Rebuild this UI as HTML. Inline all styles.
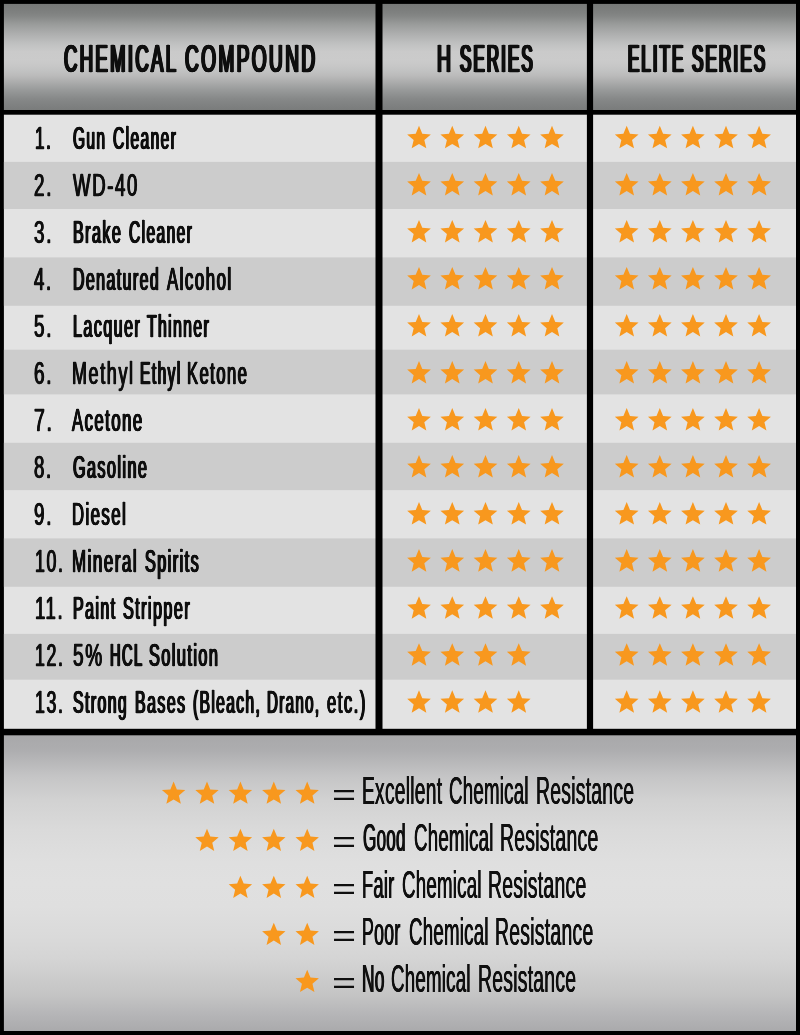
<!DOCTYPE html><html lang="en"><head><meta charset="utf-8"><title>Chemical Resistance Chart</title><style>
html,body{margin:0;padding:0;background:#000;}
body{width:800px;height:1035px;position:relative;overflow:hidden;font-family:"Liberation Sans",sans-serif;color:#0f0f0f;}
.t{position:absolute;white-space:nowrap;transform-origin:0 50%;line-height:1;display:block;}
.h{-webkit-text-stroke:0.70px;font-weight:normal;font-size:38.80px;letter-spacing:5.00px;text-shadow:0.80px 0 0 #0f0f0f,-0.80px 0 0 #0f0f0f,1.60px 0 0 #0f0f0f,-1.60px 0 0 #0f0f0f;word-spacing:2.00px;}
.rt{-webkit-text-stroke:0.40px;font-weight:normal;font-size:30.70px;letter-spacing:2.80px;text-shadow:0.60px 0 0 #0f0f0f,-0.60px 0 0 #0f0f0f,1.20px 0 0 #0f0f0f,-1.20px 0 0 #0f0f0f;word-spacing:2.00px;}
.lg{font-weight:normal;font-size:39.10px;letter-spacing:0.50px;text-shadow:0.40px 0 0 #0f0f0f,-0.40px 0 0 #0f0f0f;word-spacing:0.00px;}
.eq{font-weight:normal;font-size:30.00px;}
svg{position:absolute;left:0;top:0;}
</style></head><body>
<svg width="800" height="1035" viewBox="0 0 800 1035"><defs><linearGradient id="hg" x1="0" y1="0" x2="0" y2="1"><stop offset="0%" stop-color="#777978"/><stop offset="7.5%" stop-color="#7e807f"/><stop offset="11.3%" stop-color="#848685"/><stop offset="15%" stop-color="#8e908f"/><stop offset="19%" stop-color="#999b9a"/><stop offset="28%" stop-color="#adaeae"/><stop offset="37.7%" stop-color="#c0c1c1"/><stop offset="45%" stop-color="#cacaca"/><stop offset="53%" stop-color="#cbcbcb"/><stop offset="58.5%" stop-color="#c7c7c7"/><stop offset="64%" stop-color="#c0c1c1"/><stop offset="68%" stop-color="#bababa"/><stop offset="75%" stop-color="#a8a9a9"/><stop offset="82%" stop-color="#969898"/><stop offset="89.6%" stop-color="#868888"/><stop offset="98%" stop-color="#7c7e7e"/><stop offset="100%" stop-color="#7a7c7b"/></linearGradient><linearGradient id="fg" x1="0" y1="0" x2="0" y2="1"><stop offset="0%" stop-color="#a8a8aa"/><stop offset="5%" stop-color="#adadaf"/><stop offset="14%" stop-color="#c5c5c6"/><stop offset="22%" stop-color="#d2d2d2"/><stop offset="32%" stop-color="#dadada"/><stop offset="43%" stop-color="#dfdfdf"/><stop offset="50%" stop-color="#e0e0e0"/><stop offset="58%" stop-color="#dfdfdf"/><stop offset="68%" stop-color="#dadada"/><stop offset="76%" stop-color="#d4d4d4"/><stop offset="88%" stop-color="#c4c4c4"/><stop offset="94%" stop-color="#b6b6b8"/><stop offset="100%" stop-color="#aaaaac"/></linearGradient></defs><rect width="800" height="1035" fill="#000"/><rect x="3.90" y="3.90" width="792.10" height="106.10" fill="url(#hg)"/><rect x="3.90" y="114.70" width="792.10" height="614.10" fill="#e3e3e3"/><rect x="3.90" y="161.90" width="792.10" height="47.10" fill="#cccccc"/><rect x="3.90" y="257.40" width="792.10" height="48.35" fill="#cccccc"/><rect x="3.90" y="349.70" width="792.10" height="44.70" fill="#cccccc"/><rect x="3.90" y="442.80" width="792.10" height="47.30" fill="#cccccc"/><rect x="3.90" y="538.40" width="792.10" height="48.40" fill="#cccccc"/><rect x="3.90" y="633.90" width="792.10" height="45.80" fill="#cccccc"/><rect x="375.50" y="0" width="7.00" height="736.30" fill="#000"/><rect x="586.90" y="0" width="6.20" height="736.30" fill="#000"/><rect x="3.90" y="735.30" width="792.10" height="295.70" fill="url(#fg)"/></svg>
<div class="t h" id="h0_0" style="left:64.39px;top:39.81px;transform:scaleX(0.4756);text-shadow:0.75px 0 0 #0f0f0f,-0.75px 0 0 #0f0f0f,1.49px 0 0 #0f0f0f,-1.49px 0 0 #0f0f0f,2.24px 0 0 #0f0f0f,-2.24px 0 0 #0f0f0f">CHEMICAL</div>
<div class="t h" id="h0_1" style="left:185.16px;top:39.81px;transform:scaleX(0.4899);text-shadow:0.70px 0 0 #0f0f0f,-0.70px 0 0 #0f0f0f,1.41px 0 0 #0f0f0f,-1.41px 0 0 #0f0f0f,2.11px 0 0 #0f0f0f,-2.11px 0 0 #0f0f0f">COMPOUND</div>
<div class="t h" id="h1_0" style="left:437.00px;top:39.81px;transform:scaleX(0.4985);text-shadow:0.68px 0 0 #0f0f0f,-0.68px 0 0 #0f0f0f,1.36px 0 0 #0f0f0f,-1.36px 0 0 #0f0f0f,2.04px 0 0 #0f0f0f,-2.04px 0 0 #0f0f0f">H</div>
<div class="t h" id="h1_1" style="left:460.04px;top:39.81px;transform:scaleX(0.4343);text-shadow:0.89px 0 0 #0f0f0f,-0.89px 0 0 #0f0f0f,1.77px 0 0 #0f0f0f,-1.77px 0 0 #0f0f0f,2.66px 0 0 #0f0f0f,-2.66px 0 0 #0f0f0f">SERIES</div>
<div class="t h" id="h2_0" style="left:628.10px;top:39.81px;transform:scaleX(0.4321);text-shadow:0.90px 0 0 #0f0f0f,-0.90px 0 0 #0f0f0f,1.79px 0 0 #0f0f0f,-1.79px 0 0 #0f0f0f,2.69px 0 0 #0f0f0f,-2.69px 0 0 #0f0f0f">ELITE</div>
<div class="t h" id="h2_1" style="left:692.49px;top:39.81px;transform:scaleX(0.4370);text-shadow:0.88px 0 0 #0f0f0f,-0.88px 0 0 #0f0f0f,1.75px 0 0 #0f0f0f,-1.75px 0 0 #0f0f0f,2.63px 0 0 #0f0f0f,-2.63px 0 0 #0f0f0f">SERIES</div>
<div class="t rt" id="n0" style="left:35.37px;top:123.90px;transform:scaleX(0.5588);text-shadow:0.52px 0 0 #0f0f0f,-0.52px 0 0 #0f0f0f,1.04px 0 0 #0f0f0f,-1.04px 0 0 #0f0f0f">1.</div>
<div class="t rt" id="r0_0" style="left:73.17px;top:123.90px;transform:scaleX(0.5023);text-shadow:0.67px 0 0 #0f0f0f,-0.67px 0 0 #0f0f0f,1.34px 0 0 #0f0f0f,-1.34px 0 0 #0f0f0f">Gun</div>
<div class="t rt" id="r0_1" style="left:113.06px;top:123.90px;transform:scaleX(0.5054);text-shadow:0.66px 0 0 #0f0f0f,-0.66px 0 0 #0f0f0f,1.32px 0 0 #0f0f0f,-1.32px 0 0 #0f0f0f">Cleaner</div>
<div class="t rt" id="n1" style="left:33.70px;top:170.93px;transform:scaleX(0.6106);text-shadow:0.81px 0 0 #0f0f0f,-0.81px 0 0 #0f0f0f">2.</div>
<div class="t rt" id="r1_0" style="left:72.76px;top:170.93px;transform:scaleX(0.6038);text-shadow:0.84px 0 0 #0f0f0f,-0.84px 0 0 #0f0f0f">WD-40</div>
<div class="t rt" id="n2" style="left:33.81px;top:217.96px;transform:scaleX(0.6120);text-shadow:0.81px 0 0 #0f0f0f,-0.81px 0 0 #0f0f0f">3.</div>
<div class="t rt" id="r2_0" style="left:72.68px;top:217.96px;transform:scaleX(0.5236);text-shadow:0.61px 0 0 #0f0f0f,-0.61px 0 0 #0f0f0f,1.22px 0 0 #0f0f0f,-1.22px 0 0 #0f0f0f">Brake</div>
<div class="t rt" id="r2_1" style="left:128.80px;top:217.96px;transform:scaleX(0.5053);text-shadow:0.66px 0 0 #0f0f0f,-0.66px 0 0 #0f0f0f,1.33px 0 0 #0f0f0f,-1.33px 0 0 #0f0f0f">Cleaner</div>
<div class="t rt" id="n3" style="left:33.83px;top:264.99px;transform:scaleX(0.6025);text-shadow:0.85px 0 0 #0f0f0f,-0.85px 0 0 #0f0f0f">4.</div>
<div class="t rt" id="r3_0" style="left:72.99px;top:264.99px;transform:scaleX(0.5174);text-shadow:0.63px 0 0 #0f0f0f,-0.63px 0 0 #0f0f0f,1.26px 0 0 #0f0f0f,-1.26px 0 0 #0f0f0f">Denatured</div>
<div class="t rt" id="r3_1" style="left:167.05px;top:264.99px;transform:scaleX(0.5463);text-shadow:0.55px 0 0 #0f0f0f,-0.55px 0 0 #0f0f0f,1.10px 0 0 #0f0f0f,-1.10px 0 0 #0f0f0f">Alcohol</div>
<div class="t rt" id="n4" style="left:34.37px;top:312.02px;transform:scaleX(0.6123);text-shadow:0.81px 0 0 #0f0f0f,-0.81px 0 0 #0f0f0f">5.</div>
<div class="t rt" id="r4_0" style="left:73.12px;top:312.02px;transform:scaleX(0.5232);text-shadow:0.61px 0 0 #0f0f0f,-0.61px 0 0 #0f0f0f,1.22px 0 0 #0f0f0f,-1.22px 0 0 #0f0f0f">Lacquer</div>
<div class="t rt" id="r4_1" style="left:147.44px;top:312.02px;transform:scaleX(0.5107);text-shadow:0.65px 0 0 #0f0f0f,-0.65px 0 0 #0f0f0f,1.29px 0 0 #0f0f0f,-1.29px 0 0 #0f0f0f">Thinner</div>
<div class="t rt" id="n5" style="left:34.10px;top:359.05px;transform:scaleX(0.6167);text-shadow:0.79px 0 0 #0f0f0f,-0.79px 0 0 #0f0f0f">6.</div>
<div class="t rt" id="r5_0" style="left:72.16px;top:359.05px;transform:scaleX(0.5844);text-shadow:0.92px 0 0 #0f0f0f,-0.92px 0 0 #0f0f0f">Methyl</div>
<div class="t rt" id="r5_1" style="left:139.50px;top:359.05px;transform:scaleX(0.5072);text-shadow:0.66px 0 0 #0f0f0f,-0.66px 0 0 #0f0f0f,1.31px 0 0 #0f0f0f,-1.31px 0 0 #0f0f0f">Ethyl</div>
<div class="t rt" id="r5_2" style="left:187.33px;top:359.05px;transform:scaleX(0.5382);text-shadow:0.57px 0 0 #0f0f0f,-0.57px 0 0 #0f0f0f,1.14px 0 0 #0f0f0f,-1.14px 0 0 #0f0f0f">Ketone</div>
<div class="t rt" id="n6" style="left:33.77px;top:406.08px;transform:scaleX(0.6321);text-shadow:0.73px 0 0 #0f0f0f,-0.73px 0 0 #0f0f0f">7.</div>
<div class="t rt" id="r6_0" style="left:72.47px;top:406.08px;transform:scaleX(0.5421);text-shadow:0.56px 0 0 #0f0f0f,-0.56px 0 0 #0f0f0f,1.12px 0 0 #0f0f0f,-1.12px 0 0 #0f0f0f">Acetone</div>
<div class="t rt" id="n7" style="left:34.17px;top:453.11px;transform:scaleX(0.6070);text-shadow:0.83px 0 0 #0f0f0f,-0.83px 0 0 #0f0f0f">8.</div>
<div class="t rt" id="r7_0" style="left:73.42px;top:453.11px;transform:scaleX(0.5251);text-shadow:0.61px 0 0 #0f0f0f,-0.61px 0 0 #0f0f0f,1.21px 0 0 #0f0f0f,-1.21px 0 0 #0f0f0f">Gasoline</div>
<div class="t rt" id="n8" style="left:33.88px;top:500.14px;transform:scaleX(0.6127);text-shadow:0.81px 0 0 #0f0f0f,-0.81px 0 0 #0f0f0f">9.</div>
<div class="t rt" id="r8_0" style="left:72.48px;top:500.14px;transform:scaleX(0.5413);text-shadow:0.56px 0 0 #0f0f0f,-0.56px 0 0 #0f0f0f,1.13px 0 0 #0f0f0f,-1.13px 0 0 #0f0f0f">Diesel</div>
<div class="t rt" id="n9" style="left:35.22px;top:547.17px;transform:scaleX(0.5775);text-shadow:0.95px 0 0 #0f0f0f,-0.95px 0 0 #0f0f0f">10.</div>
<div class="t rt" id="r9_0" style="left:72.07px;top:547.17px;transform:scaleX(0.5505);text-shadow:0.54px 0 0 #0f0f0f,-0.54px 0 0 #0f0f0f,1.08px 0 0 #0f0f0f,-1.08px 0 0 #0f0f0f">Mineral</div>
<div class="t rt" id="r9_1" style="left:145.01px;top:547.17px;transform:scaleX(0.5260);text-shadow:0.60px 0 0 #0f0f0f,-0.60px 0 0 #0f0f0f,1.21px 0 0 #0f0f0f,-1.21px 0 0 #0f0f0f">Spirits</div>
<div class="t rt" id="n10" style="left:34.91px;top:594.20px;transform:scaleX(0.6031);text-shadow:0.84px 0 0 #0f0f0f,-0.84px 0 0 #0f0f0f">11.</div>
<div class="t rt" id="r10_0" style="left:72.58px;top:594.20px;transform:scaleX(0.5191);text-shadow:0.62px 0 0 #0f0f0f,-0.62px 0 0 #0f0f0f,1.25px 0 0 #0f0f0f,-1.25px 0 0 #0f0f0f">Paint</div>
<div class="t rt" id="r10_1" style="left:123.22px;top:594.20px;transform:scaleX(0.5246);text-shadow:0.61px 0 0 #0f0f0f,-0.61px 0 0 #0f0f0f,1.22px 0 0 #0f0f0f,-1.22px 0 0 #0f0f0f">Stripper</div>
<div class="t rt" id="n11" style="left:34.84px;top:641.23px;transform:scaleX(0.5775);text-shadow:0.95px 0 0 #0f0f0f,-0.95px 0 0 #0f0f0f">12.</div>
<div class="t rt" id="r11_0" style="left:72.83px;top:641.23px;transform:scaleX(0.6197);text-shadow:0.78px 0 0 #0f0f0f,-0.78px 0 0 #0f0f0f">5%</div>
<div class="t rt" id="r11_1" style="left:109.53px;top:641.23px;transform:scaleX(0.4790);text-shadow:0.74px 0 0 #0f0f0f,-0.74px 0 0 #0f0f0f,1.49px 0 0 #0f0f0f,-1.49px 0 0 #0f0f0f">HCL</div>
<div class="t rt" id="r11_2" style="left:149.42px;top:641.23px;transform:scaleX(0.5283);text-shadow:0.60px 0 0 #0f0f0f,-0.60px 0 0 #0f0f0f,1.20px 0 0 #0f0f0f,-1.20px 0 0 #0f0f0f">Solution</div>
<div class="t rt" id="n12" style="left:34.69px;top:688.26px;transform:scaleX(0.5780);text-shadow:0.95px 0 0 #0f0f0f,-0.95px 0 0 #0f0f0f">13.</div>
<div class="t rt" id="r12_0" style="left:72.58px;top:688.26px;transform:scaleX(0.5147);text-shadow:0.64px 0 0 #0f0f0f,-0.64px 0 0 #0f0f0f,1.27px 0 0 #0f0f0f,-1.27px 0 0 #0f0f0f">Strong</div>
<div class="t rt" id="r12_1" style="left:134.94px;top:688.26px;transform:scaleX(0.5187);text-shadow:0.62px 0 0 #0f0f0f,-0.62px 0 0 #0f0f0f,1.25px 0 0 #0f0f0f,-1.25px 0 0 #0f0f0f">Bases</div>
<div class="t rt" id="r12_2" style="left:193.17px;top:688.26px;transform:scaleX(0.5053);text-shadow:0.66px 0 0 #0f0f0f,-0.66px 0 0 #0f0f0f,1.33px 0 0 #0f0f0f,-1.33px 0 0 #0f0f0f">(Bleach,</div>
<div class="t rt" id="r12_3" style="left:267.00px;top:688.26px;transform:scaleX(0.4901);text-shadow:0.71px 0 0 #0f0f0f,-0.71px 0 0 #0f0f0f,1.42px 0 0 #0f0f0f,-1.42px 0 0 #0f0f0f">Drano,</div>
<div class="t rt" id="r12_4" style="left:327.11px;top:688.26px;transform:scaleX(0.5415);text-shadow:0.56px 0 0 #0f0f0f,-0.56px 0 0 #0f0f0f,1.13px 0 0 #0f0f0f,-1.13px 0 0 #0f0f0f">etc.)</div>
<div class="t eq" id="e0" style="left:331.70px;top:779.85px;transform:scaleX(1.3721)">=</div>
<div class="t lg" id="l0_0" style="left:361.77px;top:771.25px;transform:scaleX(0.4923);text-shadow:0.60px 0 0 #0f0f0f,-0.60px 0 0 #0f0f0f">Excellent</div>
<div class="t lg" id="l0_1" style="left:449.15px;top:771.25px;transform:scaleX(0.4776);text-shadow:0.67px 0 0 #0f0f0f,-0.67px 0 0 #0f0f0f">Chemical</div>
<div class="t lg" id="l0_2" style="left:535.51px;top:771.25px;transform:scaleX(0.4957);text-shadow:0.58px 0 0 #0f0f0f,-0.58px 0 0 #0f0f0f">Resistance</div>
<div class="t eq" id="e1" style="left:331.67px;top:826.90px;transform:scaleX(1.3718)">=</div>
<div class="t lg" id="l1_0" style="left:363.11px;top:818.30px;transform:scaleX(0.4379);text-shadow:0.90px 0 0 #0f0f0f,-0.90px 0 0 #0f0f0f">Good</div>
<div class="t lg" id="l1_1" style="left:413.51px;top:818.30px;transform:scaleX(0.4775);text-shadow:0.68px 0 0 #0f0f0f,-0.68px 0 0 #0f0f0f">Chemical</div>
<div class="t lg" id="l1_2" style="left:500.17px;top:818.30px;transform:scaleX(0.4966);text-shadow:0.58px 0 0 #0f0f0f,-0.58px 0 0 #0f0f0f">Resistance</div>
<div class="t eq" id="e2" style="left:331.64px;top:873.95px;transform:scaleX(1.3715)">=</div>
<div class="t lg" id="l2_0" style="left:361.71px;top:865.35px;transform:scaleX(0.4681);text-shadow:0.73px 0 0 #0f0f0f,-0.73px 0 0 #0f0f0f">Fair</div>
<div class="t lg" id="l2_1" style="left:402.41px;top:865.35px;transform:scaleX(0.4777);text-shadow:0.67px 0 0 #0f0f0f,-0.67px 0 0 #0f0f0f">Chemical</div>
<div class="t lg" id="l2_2" style="left:488.15px;top:865.35px;transform:scaleX(0.4966);text-shadow:0.58px 0 0 #0f0f0f,-0.58px 0 0 #0f0f0f">Resistance</div>
<div class="t eq" id="e3" style="left:331.66px;top:921.00px;transform:scaleX(1.3718)">=</div>
<div class="t lg" id="l3_0" style="left:361.92px;top:912.40px;transform:scaleX(0.4549);text-shadow:0.80px 0 0 #0f0f0f,-0.80px 0 0 #0f0f0f">Poor</div>
<div class="t lg" id="l3_1" style="left:408.73px;top:912.40px;transform:scaleX(0.4778);text-shadow:0.67px 0 0 #0f0f0f,-0.67px 0 0 #0f0f0f">Chemical</div>
<div class="t lg" id="l3_2" style="left:494.59px;top:912.40px;transform:scaleX(0.4965);text-shadow:0.58px 0 0 #0f0f0f,-0.58px 0 0 #0f0f0f">Resistance</div>
<div class="t eq" id="e4" style="left:331.70px;top:968.05px;transform:scaleX(1.3717)">=</div>
<div class="t lg" id="l4_0" style="left:362.47px;top:959.45px;transform:scaleX(0.4438);text-shadow:0.87px 0 0 #0f0f0f,-0.87px 0 0 #0f0f0f">No</div>
<div class="t lg" id="l4_1" style="left:391.43px;top:959.45px;transform:scaleX(0.4778);text-shadow:0.67px 0 0 #0f0f0f,-0.67px 0 0 #0f0f0f">Chemical</div>
<div class="t lg" id="l4_2" style="left:478.03px;top:959.45px;transform:scaleX(0.4957);text-shadow:0.58px 0 0 #0f0f0f,-0.58px 0 0 #0f0f0f">Resistance</div>
<svg width="800" height="1035" viewBox="0 0 800 1035"><g fill="#f8981e"><polygon points="419.00,125.85 422.29,133.77 430.84,134.45 424.33,140.03 426.32,148.37 419.00,143.90 411.68,148.37 413.67,140.03 407.16,134.45 415.71,133.77"/><polygon points="452.25,125.85 455.54,133.77 464.09,134.45 457.58,140.03 459.57,148.37 452.25,143.90 444.93,148.37 446.92,140.03 440.41,134.45 448.96,133.77"/><polygon points="485.50,125.85 488.79,133.77 497.34,134.45 490.83,140.03 492.82,148.37 485.50,143.90 478.18,148.37 480.17,140.03 473.66,134.45 482.21,133.77"/><polygon points="518.75,125.85 522.04,133.77 530.59,134.45 524.08,140.03 526.07,148.37 518.75,143.90 511.43,148.37 513.42,140.03 506.91,134.45 515.46,133.77"/><polygon points="552.00,125.85 555.29,133.77 563.84,134.45 557.33,140.03 559.32,148.37 552.00,143.90 544.68,148.37 546.67,140.03 540.16,134.45 548.71,133.77"/><polygon points="626.70,125.85 629.99,133.77 638.54,134.45 632.03,140.03 634.02,148.37 626.70,143.90 619.38,148.37 621.37,140.03 614.86,134.45 623.41,133.77"/><polygon points="659.80,125.85 663.09,133.77 671.64,134.45 665.13,140.03 667.12,148.37 659.80,143.90 652.48,148.37 654.47,140.03 647.96,134.45 656.51,133.77"/><polygon points="692.90,125.85 696.19,133.77 704.74,134.45 698.23,140.03 700.22,148.37 692.90,143.90 685.58,148.37 687.57,140.03 681.06,134.45 689.61,133.77"/><polygon points="726.00,125.85 729.29,133.77 737.84,134.45 731.33,140.03 733.32,148.37 726.00,143.90 718.68,148.37 720.67,140.03 714.16,134.45 722.71,133.77"/><polygon points="759.10,125.85 762.39,133.77 770.94,134.45 764.43,140.03 766.42,148.37 759.10,143.90 751.78,148.37 753.77,140.03 747.26,134.45 755.81,133.77"/><polygon points="419.00,172.88 422.29,180.80 430.84,181.48 424.33,187.06 426.32,195.40 419.00,190.93 411.68,195.40 413.67,187.06 407.16,181.48 415.71,180.80"/><polygon points="452.25,172.88 455.54,180.80 464.09,181.48 457.58,187.06 459.57,195.40 452.25,190.93 444.93,195.40 446.92,187.06 440.41,181.48 448.96,180.80"/><polygon points="485.50,172.88 488.79,180.80 497.34,181.48 490.83,187.06 492.82,195.40 485.50,190.93 478.18,195.40 480.17,187.06 473.66,181.48 482.21,180.80"/><polygon points="518.75,172.88 522.04,180.80 530.59,181.48 524.08,187.06 526.07,195.40 518.75,190.93 511.43,195.40 513.42,187.06 506.91,181.48 515.46,180.80"/><polygon points="552.00,172.88 555.29,180.80 563.84,181.48 557.33,187.06 559.32,195.40 552.00,190.93 544.68,195.40 546.67,187.06 540.16,181.48 548.71,180.80"/><polygon points="626.70,172.88 629.99,180.80 638.54,181.48 632.03,187.06 634.02,195.40 626.70,190.93 619.38,195.40 621.37,187.06 614.86,181.48 623.41,180.80"/><polygon points="659.80,172.88 663.09,180.80 671.64,181.48 665.13,187.06 667.12,195.40 659.80,190.93 652.48,195.40 654.47,187.06 647.96,181.48 656.51,180.80"/><polygon points="692.90,172.88 696.19,180.80 704.74,181.48 698.23,187.06 700.22,195.40 692.90,190.93 685.58,195.40 687.57,187.06 681.06,181.48 689.61,180.80"/><polygon points="726.00,172.88 729.29,180.80 737.84,181.48 731.33,187.06 733.32,195.40 726.00,190.93 718.68,195.40 720.67,187.06 714.16,181.48 722.71,180.80"/><polygon points="759.10,172.88 762.39,180.80 770.94,181.48 764.43,187.06 766.42,195.40 759.10,190.93 751.78,195.40 753.77,187.06 747.26,181.48 755.81,180.80"/><polygon points="419.00,219.91 422.29,227.83 430.84,228.51 424.33,234.09 426.32,242.43 419.00,237.96 411.68,242.43 413.67,234.09 407.16,228.51 415.71,227.83"/><polygon points="452.25,219.91 455.54,227.83 464.09,228.51 457.58,234.09 459.57,242.43 452.25,237.96 444.93,242.43 446.92,234.09 440.41,228.51 448.96,227.83"/><polygon points="485.50,219.91 488.79,227.83 497.34,228.51 490.83,234.09 492.82,242.43 485.50,237.96 478.18,242.43 480.17,234.09 473.66,228.51 482.21,227.83"/><polygon points="518.75,219.91 522.04,227.83 530.59,228.51 524.08,234.09 526.07,242.43 518.75,237.96 511.43,242.43 513.42,234.09 506.91,228.51 515.46,227.83"/><polygon points="552.00,219.91 555.29,227.83 563.84,228.51 557.33,234.09 559.32,242.43 552.00,237.96 544.68,242.43 546.67,234.09 540.16,228.51 548.71,227.83"/><polygon points="626.70,219.91 629.99,227.83 638.54,228.51 632.03,234.09 634.02,242.43 626.70,237.96 619.38,242.43 621.37,234.09 614.86,228.51 623.41,227.83"/><polygon points="659.80,219.91 663.09,227.83 671.64,228.51 665.13,234.09 667.12,242.43 659.80,237.96 652.48,242.43 654.47,234.09 647.96,228.51 656.51,227.83"/><polygon points="692.90,219.91 696.19,227.83 704.74,228.51 698.23,234.09 700.22,242.43 692.90,237.96 685.58,242.43 687.57,234.09 681.06,228.51 689.61,227.83"/><polygon points="726.00,219.91 729.29,227.83 737.84,228.51 731.33,234.09 733.32,242.43 726.00,237.96 718.68,242.43 720.67,234.09 714.16,228.51 722.71,227.83"/><polygon points="759.10,219.91 762.39,227.83 770.94,228.51 764.43,234.09 766.42,242.43 759.10,237.96 751.78,242.43 753.77,234.09 747.26,228.51 755.81,227.83"/><polygon points="419.00,266.94 422.29,274.86 430.84,275.54 424.33,281.12 426.32,289.46 419.00,284.99 411.68,289.46 413.67,281.12 407.16,275.54 415.71,274.86"/><polygon points="452.25,266.94 455.54,274.86 464.09,275.54 457.58,281.12 459.57,289.46 452.25,284.99 444.93,289.46 446.92,281.12 440.41,275.54 448.96,274.86"/><polygon points="485.50,266.94 488.79,274.86 497.34,275.54 490.83,281.12 492.82,289.46 485.50,284.99 478.18,289.46 480.17,281.12 473.66,275.54 482.21,274.86"/><polygon points="518.75,266.94 522.04,274.86 530.59,275.54 524.08,281.12 526.07,289.46 518.75,284.99 511.43,289.46 513.42,281.12 506.91,275.54 515.46,274.86"/><polygon points="552.00,266.94 555.29,274.86 563.84,275.54 557.33,281.12 559.32,289.46 552.00,284.99 544.68,289.46 546.67,281.12 540.16,275.54 548.71,274.86"/><polygon points="626.70,266.94 629.99,274.86 638.54,275.54 632.03,281.12 634.02,289.46 626.70,284.99 619.38,289.46 621.37,281.12 614.86,275.54 623.41,274.86"/><polygon points="659.80,266.94 663.09,274.86 671.64,275.54 665.13,281.12 667.12,289.46 659.80,284.99 652.48,289.46 654.47,281.12 647.96,275.54 656.51,274.86"/><polygon points="692.90,266.94 696.19,274.86 704.74,275.54 698.23,281.12 700.22,289.46 692.90,284.99 685.58,289.46 687.57,281.12 681.06,275.54 689.61,274.86"/><polygon points="726.00,266.94 729.29,274.86 737.84,275.54 731.33,281.12 733.32,289.46 726.00,284.99 718.68,289.46 720.67,281.12 714.16,275.54 722.71,274.86"/><polygon points="759.10,266.94 762.39,274.86 770.94,275.54 764.43,281.12 766.42,289.46 759.10,284.99 751.78,289.46 753.77,281.12 747.26,275.54 755.81,274.86"/><polygon points="419.00,313.97 422.29,321.89 430.84,322.57 424.33,328.15 426.32,336.49 419.00,332.02 411.68,336.49 413.67,328.15 407.16,322.57 415.71,321.89"/><polygon points="452.25,313.97 455.54,321.89 464.09,322.57 457.58,328.15 459.57,336.49 452.25,332.02 444.93,336.49 446.92,328.15 440.41,322.57 448.96,321.89"/><polygon points="485.50,313.97 488.79,321.89 497.34,322.57 490.83,328.15 492.82,336.49 485.50,332.02 478.18,336.49 480.17,328.15 473.66,322.57 482.21,321.89"/><polygon points="518.75,313.97 522.04,321.89 530.59,322.57 524.08,328.15 526.07,336.49 518.75,332.02 511.43,336.49 513.42,328.15 506.91,322.57 515.46,321.89"/><polygon points="552.00,313.97 555.29,321.89 563.84,322.57 557.33,328.15 559.32,336.49 552.00,332.02 544.68,336.49 546.67,328.15 540.16,322.57 548.71,321.89"/><polygon points="626.70,313.97 629.99,321.89 638.54,322.57 632.03,328.15 634.02,336.49 626.70,332.02 619.38,336.49 621.37,328.15 614.86,322.57 623.41,321.89"/><polygon points="659.80,313.97 663.09,321.89 671.64,322.57 665.13,328.15 667.12,336.49 659.80,332.02 652.48,336.49 654.47,328.15 647.96,322.57 656.51,321.89"/><polygon points="692.90,313.97 696.19,321.89 704.74,322.57 698.23,328.15 700.22,336.49 692.90,332.02 685.58,336.49 687.57,328.15 681.06,322.57 689.61,321.89"/><polygon points="726.00,313.97 729.29,321.89 737.84,322.57 731.33,328.15 733.32,336.49 726.00,332.02 718.68,336.49 720.67,328.15 714.16,322.57 722.71,321.89"/><polygon points="759.10,313.97 762.39,321.89 770.94,322.57 764.43,328.15 766.42,336.49 759.10,332.02 751.78,336.49 753.77,328.15 747.26,322.57 755.81,321.89"/><polygon points="419.00,361.00 422.29,368.92 430.84,369.60 424.33,375.18 426.32,383.52 419.00,379.05 411.68,383.52 413.67,375.18 407.16,369.60 415.71,368.92"/><polygon points="452.25,361.00 455.54,368.92 464.09,369.60 457.58,375.18 459.57,383.52 452.25,379.05 444.93,383.52 446.92,375.18 440.41,369.60 448.96,368.92"/><polygon points="485.50,361.00 488.79,368.92 497.34,369.60 490.83,375.18 492.82,383.52 485.50,379.05 478.18,383.52 480.17,375.18 473.66,369.60 482.21,368.92"/><polygon points="518.75,361.00 522.04,368.92 530.59,369.60 524.08,375.18 526.07,383.52 518.75,379.05 511.43,383.52 513.42,375.18 506.91,369.60 515.46,368.92"/><polygon points="552.00,361.00 555.29,368.92 563.84,369.60 557.33,375.18 559.32,383.52 552.00,379.05 544.68,383.52 546.67,375.18 540.16,369.60 548.71,368.92"/><polygon points="626.70,361.00 629.99,368.92 638.54,369.60 632.03,375.18 634.02,383.52 626.70,379.05 619.38,383.52 621.37,375.18 614.86,369.60 623.41,368.92"/><polygon points="659.80,361.00 663.09,368.92 671.64,369.60 665.13,375.18 667.12,383.52 659.80,379.05 652.48,383.52 654.47,375.18 647.96,369.60 656.51,368.92"/><polygon points="692.90,361.00 696.19,368.92 704.74,369.60 698.23,375.18 700.22,383.52 692.90,379.05 685.58,383.52 687.57,375.18 681.06,369.60 689.61,368.92"/><polygon points="726.00,361.00 729.29,368.92 737.84,369.60 731.33,375.18 733.32,383.52 726.00,379.05 718.68,383.52 720.67,375.18 714.16,369.60 722.71,368.92"/><polygon points="759.10,361.00 762.39,368.92 770.94,369.60 764.43,375.18 766.42,383.52 759.10,379.05 751.78,383.52 753.77,375.18 747.26,369.60 755.81,368.92"/><polygon points="419.00,408.03 422.29,415.95 430.84,416.63 424.33,422.21 426.32,430.55 419.00,426.08 411.68,430.55 413.67,422.21 407.16,416.63 415.71,415.95"/><polygon points="452.25,408.03 455.54,415.95 464.09,416.63 457.58,422.21 459.57,430.55 452.25,426.08 444.93,430.55 446.92,422.21 440.41,416.63 448.96,415.95"/><polygon points="485.50,408.03 488.79,415.95 497.34,416.63 490.83,422.21 492.82,430.55 485.50,426.08 478.18,430.55 480.17,422.21 473.66,416.63 482.21,415.95"/><polygon points="518.75,408.03 522.04,415.95 530.59,416.63 524.08,422.21 526.07,430.55 518.75,426.08 511.43,430.55 513.42,422.21 506.91,416.63 515.46,415.95"/><polygon points="552.00,408.03 555.29,415.95 563.84,416.63 557.33,422.21 559.32,430.55 552.00,426.08 544.68,430.55 546.67,422.21 540.16,416.63 548.71,415.95"/><polygon points="626.70,408.03 629.99,415.95 638.54,416.63 632.03,422.21 634.02,430.55 626.70,426.08 619.38,430.55 621.37,422.21 614.86,416.63 623.41,415.95"/><polygon points="659.80,408.03 663.09,415.95 671.64,416.63 665.13,422.21 667.12,430.55 659.80,426.08 652.48,430.55 654.47,422.21 647.96,416.63 656.51,415.95"/><polygon points="692.90,408.03 696.19,415.95 704.74,416.63 698.23,422.21 700.22,430.55 692.90,426.08 685.58,430.55 687.57,422.21 681.06,416.63 689.61,415.95"/><polygon points="726.00,408.03 729.29,415.95 737.84,416.63 731.33,422.21 733.32,430.55 726.00,426.08 718.68,430.55 720.67,422.21 714.16,416.63 722.71,415.95"/><polygon points="759.10,408.03 762.39,415.95 770.94,416.63 764.43,422.21 766.42,430.55 759.10,426.08 751.78,430.55 753.77,422.21 747.26,416.63 755.81,415.95"/><polygon points="419.00,455.06 422.29,462.98 430.84,463.66 424.33,469.24 426.32,477.58 419.00,473.11 411.68,477.58 413.67,469.24 407.16,463.66 415.71,462.98"/><polygon points="452.25,455.06 455.54,462.98 464.09,463.66 457.58,469.24 459.57,477.58 452.25,473.11 444.93,477.58 446.92,469.24 440.41,463.66 448.96,462.98"/><polygon points="485.50,455.06 488.79,462.98 497.34,463.66 490.83,469.24 492.82,477.58 485.50,473.11 478.18,477.58 480.17,469.24 473.66,463.66 482.21,462.98"/><polygon points="518.75,455.06 522.04,462.98 530.59,463.66 524.08,469.24 526.07,477.58 518.75,473.11 511.43,477.58 513.42,469.24 506.91,463.66 515.46,462.98"/><polygon points="552.00,455.06 555.29,462.98 563.84,463.66 557.33,469.24 559.32,477.58 552.00,473.11 544.68,477.58 546.67,469.24 540.16,463.66 548.71,462.98"/><polygon points="626.70,455.06 629.99,462.98 638.54,463.66 632.03,469.24 634.02,477.58 626.70,473.11 619.38,477.58 621.37,469.24 614.86,463.66 623.41,462.98"/><polygon points="659.80,455.06 663.09,462.98 671.64,463.66 665.13,469.24 667.12,477.58 659.80,473.11 652.48,477.58 654.47,469.24 647.96,463.66 656.51,462.98"/><polygon points="692.90,455.06 696.19,462.98 704.74,463.66 698.23,469.24 700.22,477.58 692.90,473.11 685.58,477.58 687.57,469.24 681.06,463.66 689.61,462.98"/><polygon points="726.00,455.06 729.29,462.98 737.84,463.66 731.33,469.24 733.32,477.58 726.00,473.11 718.68,477.58 720.67,469.24 714.16,463.66 722.71,462.98"/><polygon points="759.10,455.06 762.39,462.98 770.94,463.66 764.43,469.24 766.42,477.58 759.10,473.11 751.78,477.58 753.77,469.24 747.26,463.66 755.81,462.98"/><polygon points="419.00,502.09 422.29,510.01 430.84,510.69 424.33,516.27 426.32,524.61 419.00,520.14 411.68,524.61 413.67,516.27 407.16,510.69 415.71,510.01"/><polygon points="452.25,502.09 455.54,510.01 464.09,510.69 457.58,516.27 459.57,524.61 452.25,520.14 444.93,524.61 446.92,516.27 440.41,510.69 448.96,510.01"/><polygon points="485.50,502.09 488.79,510.01 497.34,510.69 490.83,516.27 492.82,524.61 485.50,520.14 478.18,524.61 480.17,516.27 473.66,510.69 482.21,510.01"/><polygon points="518.75,502.09 522.04,510.01 530.59,510.69 524.08,516.27 526.07,524.61 518.75,520.14 511.43,524.61 513.42,516.27 506.91,510.69 515.46,510.01"/><polygon points="552.00,502.09 555.29,510.01 563.84,510.69 557.33,516.27 559.32,524.61 552.00,520.14 544.68,524.61 546.67,516.27 540.16,510.69 548.71,510.01"/><polygon points="626.70,502.09 629.99,510.01 638.54,510.69 632.03,516.27 634.02,524.61 626.70,520.14 619.38,524.61 621.37,516.27 614.86,510.69 623.41,510.01"/><polygon points="659.80,502.09 663.09,510.01 671.64,510.69 665.13,516.27 667.12,524.61 659.80,520.14 652.48,524.61 654.47,516.27 647.96,510.69 656.51,510.01"/><polygon points="692.90,502.09 696.19,510.01 704.74,510.69 698.23,516.27 700.22,524.61 692.90,520.14 685.58,524.61 687.57,516.27 681.06,510.69 689.61,510.01"/><polygon points="726.00,502.09 729.29,510.01 737.84,510.69 731.33,516.27 733.32,524.61 726.00,520.14 718.68,524.61 720.67,516.27 714.16,510.69 722.71,510.01"/><polygon points="759.10,502.09 762.39,510.01 770.94,510.69 764.43,516.27 766.42,524.61 759.10,520.14 751.78,524.61 753.77,516.27 747.26,510.69 755.81,510.01"/><polygon points="419.00,549.12 422.29,557.04 430.84,557.72 424.33,563.30 426.32,571.64 419.00,567.17 411.68,571.64 413.67,563.30 407.16,557.72 415.71,557.04"/><polygon points="452.25,549.12 455.54,557.04 464.09,557.72 457.58,563.30 459.57,571.64 452.25,567.17 444.93,571.64 446.92,563.30 440.41,557.72 448.96,557.04"/><polygon points="485.50,549.12 488.79,557.04 497.34,557.72 490.83,563.30 492.82,571.64 485.50,567.17 478.18,571.64 480.17,563.30 473.66,557.72 482.21,557.04"/><polygon points="518.75,549.12 522.04,557.04 530.59,557.72 524.08,563.30 526.07,571.64 518.75,567.17 511.43,571.64 513.42,563.30 506.91,557.72 515.46,557.04"/><polygon points="552.00,549.12 555.29,557.04 563.84,557.72 557.33,563.30 559.32,571.64 552.00,567.17 544.68,571.64 546.67,563.30 540.16,557.72 548.71,557.04"/><polygon points="626.70,549.12 629.99,557.04 638.54,557.72 632.03,563.30 634.02,571.64 626.70,567.17 619.38,571.64 621.37,563.30 614.86,557.72 623.41,557.04"/><polygon points="659.80,549.12 663.09,557.04 671.64,557.72 665.13,563.30 667.12,571.64 659.80,567.17 652.48,571.64 654.47,563.30 647.96,557.72 656.51,557.04"/><polygon points="692.90,549.12 696.19,557.04 704.74,557.72 698.23,563.30 700.22,571.64 692.90,567.17 685.58,571.64 687.57,563.30 681.06,557.72 689.61,557.04"/><polygon points="726.00,549.12 729.29,557.04 737.84,557.72 731.33,563.30 733.32,571.64 726.00,567.17 718.68,571.64 720.67,563.30 714.16,557.72 722.71,557.04"/><polygon points="759.10,549.12 762.39,557.04 770.94,557.72 764.43,563.30 766.42,571.64 759.10,567.17 751.78,571.64 753.77,563.30 747.26,557.72 755.81,557.04"/><polygon points="419.00,596.15 422.29,604.07 430.84,604.75 424.33,610.33 426.32,618.67 419.00,614.20 411.68,618.67 413.67,610.33 407.16,604.75 415.71,604.07"/><polygon points="452.25,596.15 455.54,604.07 464.09,604.75 457.58,610.33 459.57,618.67 452.25,614.20 444.93,618.67 446.92,610.33 440.41,604.75 448.96,604.07"/><polygon points="485.50,596.15 488.79,604.07 497.34,604.75 490.83,610.33 492.82,618.67 485.50,614.20 478.18,618.67 480.17,610.33 473.66,604.75 482.21,604.07"/><polygon points="518.75,596.15 522.04,604.07 530.59,604.75 524.08,610.33 526.07,618.67 518.75,614.20 511.43,618.67 513.42,610.33 506.91,604.75 515.46,604.07"/><polygon points="552.00,596.15 555.29,604.07 563.84,604.75 557.33,610.33 559.32,618.67 552.00,614.20 544.68,618.67 546.67,610.33 540.16,604.75 548.71,604.07"/><polygon points="626.70,596.15 629.99,604.07 638.54,604.75 632.03,610.33 634.02,618.67 626.70,614.20 619.38,618.67 621.37,610.33 614.86,604.75 623.41,604.07"/><polygon points="659.80,596.15 663.09,604.07 671.64,604.75 665.13,610.33 667.12,618.67 659.80,614.20 652.48,618.67 654.47,610.33 647.96,604.75 656.51,604.07"/><polygon points="692.90,596.15 696.19,604.07 704.74,604.75 698.23,610.33 700.22,618.67 692.90,614.20 685.58,618.67 687.57,610.33 681.06,604.75 689.61,604.07"/><polygon points="726.00,596.15 729.29,604.07 737.84,604.75 731.33,610.33 733.32,618.67 726.00,614.20 718.68,618.67 720.67,610.33 714.16,604.75 722.71,604.07"/><polygon points="759.10,596.15 762.39,604.07 770.94,604.75 764.43,610.33 766.42,618.67 759.10,614.20 751.78,618.67 753.77,610.33 747.26,604.75 755.81,604.07"/><polygon points="419.00,643.18 422.29,651.10 430.84,651.78 424.33,657.36 426.32,665.70 419.00,661.23 411.68,665.70 413.67,657.36 407.16,651.78 415.71,651.10"/><polygon points="452.25,643.18 455.54,651.10 464.09,651.78 457.58,657.36 459.57,665.70 452.25,661.23 444.93,665.70 446.92,657.36 440.41,651.78 448.96,651.10"/><polygon points="485.50,643.18 488.79,651.10 497.34,651.78 490.83,657.36 492.82,665.70 485.50,661.23 478.18,665.70 480.17,657.36 473.66,651.78 482.21,651.10"/><polygon points="518.75,643.18 522.04,651.10 530.59,651.78 524.08,657.36 526.07,665.70 518.75,661.23 511.43,665.70 513.42,657.36 506.91,651.78 515.46,651.10"/><polygon points="626.70,643.18 629.99,651.10 638.54,651.78 632.03,657.36 634.02,665.70 626.70,661.23 619.38,665.70 621.37,657.36 614.86,651.78 623.41,651.10"/><polygon points="659.80,643.18 663.09,651.10 671.64,651.78 665.13,657.36 667.12,665.70 659.80,661.23 652.48,665.70 654.47,657.36 647.96,651.78 656.51,651.10"/><polygon points="692.90,643.18 696.19,651.10 704.74,651.78 698.23,657.36 700.22,665.70 692.90,661.23 685.58,665.70 687.57,657.36 681.06,651.78 689.61,651.10"/><polygon points="726.00,643.18 729.29,651.10 737.84,651.78 731.33,657.36 733.32,665.70 726.00,661.23 718.68,665.70 720.67,657.36 714.16,651.78 722.71,651.10"/><polygon points="759.10,643.18 762.39,651.10 770.94,651.78 764.43,657.36 766.42,665.70 759.10,661.23 751.78,665.70 753.77,657.36 747.26,651.78 755.81,651.10"/><polygon points="419.00,690.21 422.29,698.13 430.84,698.81 424.33,704.39 426.32,712.73 419.00,708.26 411.68,712.73 413.67,704.39 407.16,698.81 415.71,698.13"/><polygon points="452.25,690.21 455.54,698.13 464.09,698.81 457.58,704.39 459.57,712.73 452.25,708.26 444.93,712.73 446.92,704.39 440.41,698.81 448.96,698.13"/><polygon points="485.50,690.21 488.79,698.13 497.34,698.81 490.83,704.39 492.82,712.73 485.50,708.26 478.18,712.73 480.17,704.39 473.66,698.81 482.21,698.13"/><polygon points="518.75,690.21 522.04,698.13 530.59,698.81 524.08,704.39 526.07,712.73 518.75,708.26 511.43,712.73 513.42,704.39 506.91,698.81 515.46,698.13"/><polygon points="626.70,690.21 629.99,698.13 638.54,698.81 632.03,704.39 634.02,712.73 626.70,708.26 619.38,712.73 621.37,704.39 614.86,698.81 623.41,698.13"/><polygon points="659.80,690.21 663.09,698.13 671.64,698.81 665.13,704.39 667.12,712.73 659.80,708.26 652.48,712.73 654.47,704.39 647.96,698.81 656.51,698.13"/><polygon points="692.90,690.21 696.19,698.13 704.74,698.81 698.23,704.39 700.22,712.73 692.90,708.26 685.58,712.73 687.57,704.39 681.06,698.81 689.61,698.13"/><polygon points="726.00,690.21 729.29,698.13 737.84,698.81 731.33,704.39 733.32,712.73 726.00,708.26 718.68,712.73 720.67,704.39 714.16,698.81 722.71,698.13"/><polygon points="759.10,690.21 762.39,698.13 770.94,698.81 764.43,704.39 766.42,712.73 759.10,708.26 751.78,712.73 753.77,704.39 747.26,698.81 755.81,698.13"/><polygon points="307.20,781.60 310.45,789.42 318.90,790.10 312.46,795.61 314.43,803.85 307.20,799.43 299.97,803.85 301.94,795.61 295.50,790.10 303.95,789.42"/><polygon points="273.80,781.60 277.05,789.42 285.50,790.10 279.06,795.61 281.03,803.85 273.80,799.43 266.57,803.85 268.54,795.61 262.10,790.10 270.55,789.42"/><polygon points="240.40,781.60 243.65,789.42 252.10,790.10 245.66,795.61 247.63,803.85 240.40,799.43 233.17,803.85 235.14,795.61 228.70,790.10 237.15,789.42"/><polygon points="207.00,781.60 210.25,789.42 218.70,790.10 212.26,795.61 214.23,803.85 207.00,799.43 199.77,803.85 201.74,795.61 195.30,790.10 203.75,789.42"/><polygon points="173.60,781.60 176.85,789.42 185.30,790.10 178.86,795.61 180.83,803.85 173.60,799.43 166.37,803.85 168.34,795.61 161.90,790.10 170.35,789.42"/><polygon points="307.20,828.65 310.45,836.47 318.90,837.15 312.46,842.66 314.43,850.90 307.20,846.48 299.97,850.90 301.94,842.66 295.50,837.15 303.95,836.47"/><polygon points="273.80,828.65 277.05,836.47 285.50,837.15 279.06,842.66 281.03,850.90 273.80,846.48 266.57,850.90 268.54,842.66 262.10,837.15 270.55,836.47"/><polygon points="240.40,828.65 243.65,836.47 252.10,837.15 245.66,842.66 247.63,850.90 240.40,846.48 233.17,850.90 235.14,842.66 228.70,837.15 237.15,836.47"/><polygon points="207.00,828.65 210.25,836.47 218.70,837.15 212.26,842.66 214.23,850.90 207.00,846.48 199.77,850.90 201.74,842.66 195.30,837.15 203.75,836.47"/><polygon points="307.20,875.70 310.45,883.52 318.90,884.20 312.46,889.71 314.43,897.95 307.20,893.53 299.97,897.95 301.94,889.71 295.50,884.20 303.95,883.52"/><polygon points="273.80,875.70 277.05,883.52 285.50,884.20 279.06,889.71 281.03,897.95 273.80,893.53 266.57,897.95 268.54,889.71 262.10,884.20 270.55,883.52"/><polygon points="240.40,875.70 243.65,883.52 252.10,884.20 245.66,889.71 247.63,897.95 240.40,893.53 233.17,897.95 235.14,889.71 228.70,884.20 237.15,883.52"/><polygon points="307.20,922.75 310.45,930.57 318.90,931.25 312.46,936.76 314.43,945.00 307.20,940.58 299.97,945.00 301.94,936.76 295.50,931.25 303.95,930.57"/><polygon points="273.80,922.75 277.05,930.57 285.50,931.25 279.06,936.76 281.03,945.00 273.80,940.58 266.57,945.00 268.54,936.76 262.10,931.25 270.55,930.57"/><polygon points="307.20,969.80 310.45,977.62 318.90,978.30 312.46,983.81 314.43,992.05 307.20,987.63 299.97,992.05 301.94,983.81 295.50,978.30 303.95,977.62"/></g></svg>
</body></html>
